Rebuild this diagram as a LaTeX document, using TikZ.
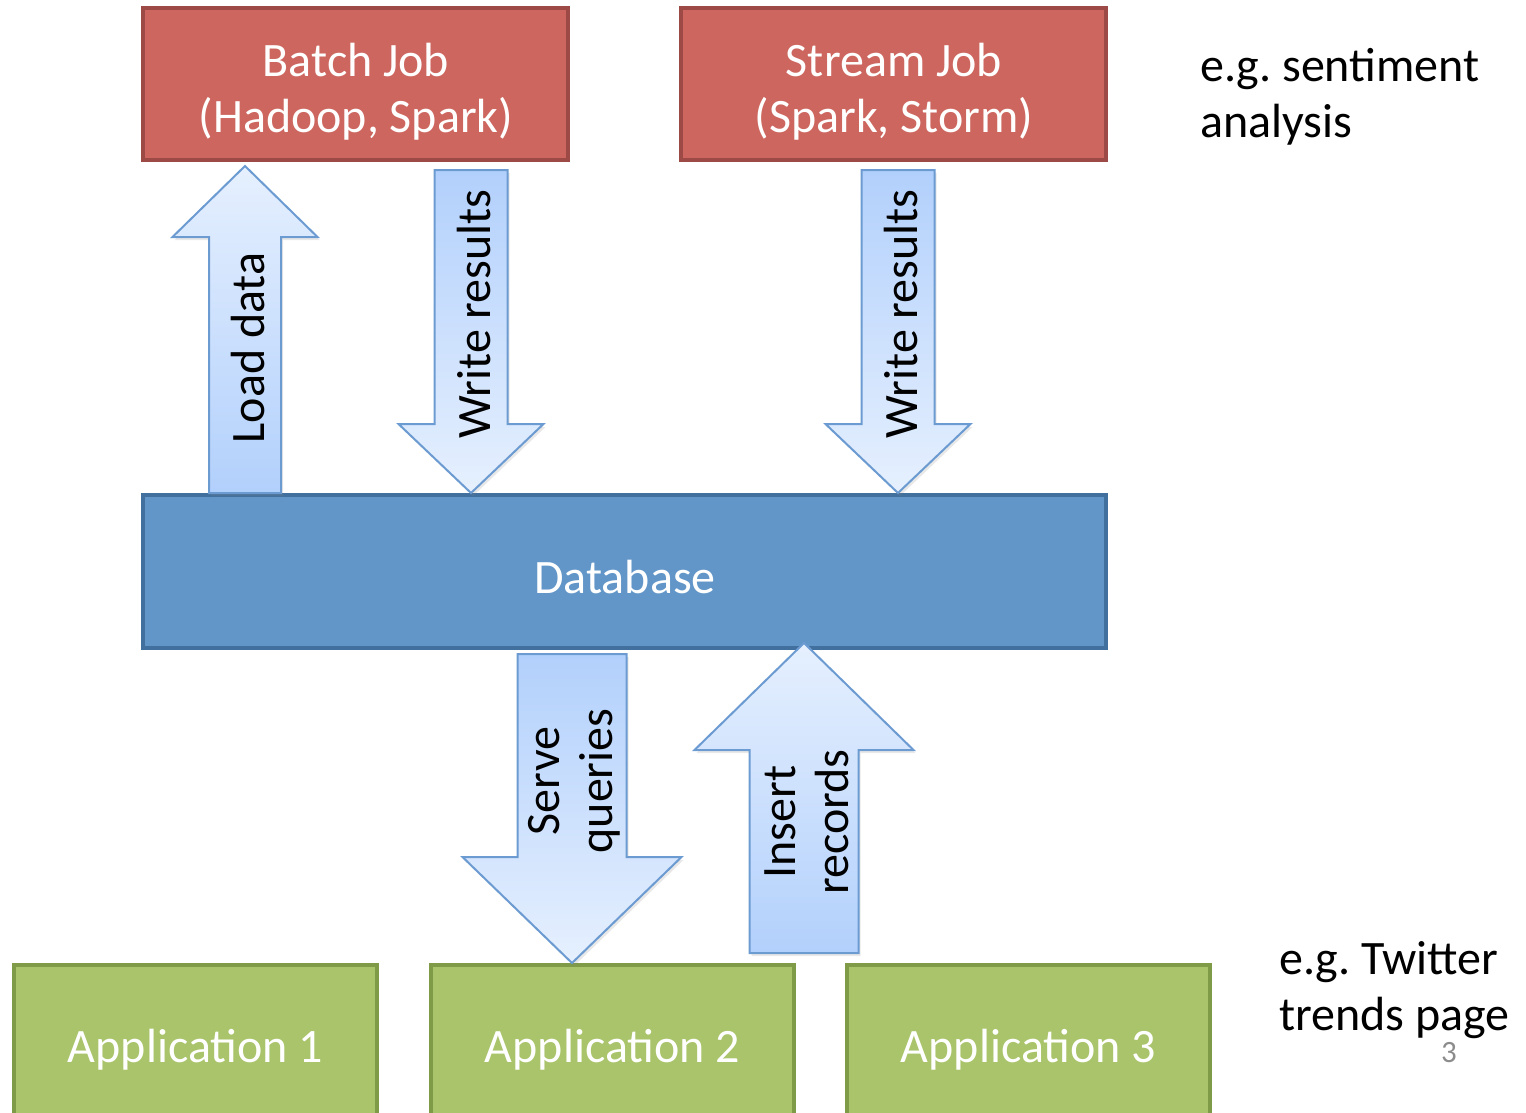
\documentclass[tikz,border=0pt]{standalone}
\usepackage{fontspec}
\setmainfont{Carlito}
\usetikzlibrary{calc,shadows}

\definecolor{jobfill}{RGB}{205,102,95}
\definecolor{jobline}{RGB}{157,74,70}
\definecolor{dbfill}{RGB}{98,150,200}
\definecolor{dbline}{RGB}{66,112,158}
\definecolor{appfill}{RGB}{169,196,106}
\definecolor{appline}{RGB}{127,155,72}
\definecolor{arrline}{RGB}{108,155,210}
\definecolor{arrlight}{RGB}{230,240,254}
\definecolor{arrdark}{RGB}{178,208,252}
\definecolor{pagenum}{RGB}{140,140,140}

% vertical block arrow: #1 style, #2 tail, #3 tip, #4 shaft half width,
% #5 head half width, #6 signed head length (canvas units)
\newcommand\vblockarrow[6]{%
  \path[#1] let \p1=(#2), \p2=(#3) in
    ({\x1-#4pt},{\y1}) -- ({\x1-#4pt},{\y2+#6pt}) -- ({\x1-#5pt},{\y2+#6pt})
    -- (\p2) -- ({\x1+#5pt},{\y2+#6pt}) -- ({\x1+#4pt},{\y2+#6pt})
    -- ({\x1+#4pt},{\y1}) -- cycle;}

\begin{document}
\frenchspacing
\begin{tikzpicture}[x=1pt,y=-1pt,
  bigfont/.style={font=\fontsize{48}{56}\selectfont},
  box/.style={draw, line width=4pt, inner sep=0pt},
  boxlabel/.style={text=white, inner sep=0pt, align=center, bigfont},
  jobbox/.style={box, fill=jobfill, draw=jobline},
  dbbox/.style={box, fill=dbfill, draw=dbline},
  appbox/.style={box, draw=appline, fill=appfill},
  blockarr/.style={draw=arrline, line width=2pt, line join=miter,
    drop shadow={opacity=0.18, shadow xshift=2pt, shadow yshift=-3pt}},
  uparr/.style={blockarr, top color=arrlight, bottom color=arrdark},
  downarr/.style={blockarr, top color=arrdark, bottom color=arrlight},
  arrlabel/.style={rotate=90, inner sep=0pt, align=center,
    font=\fontsize{48}{53}\selectfont},
  note/.style={inner sep=0pt, align=left, anchor=base west, bigfont}]

\useasboundingbox (0,0) rectangle (1526,1113);

% jobs
\node[jobbox, minimum width=425pt, minimum height=152pt] (batch) at (355.5,84) {};
\node[jobbox, minimum width=425pt, minimum height=152pt] (stream) at (893.5,84) {};
\node[boxlabel] (batchlabel) at (356,92) {Batch Job\\(Hadoop, Spark)};
\node[boxlabel] (streamlabel) at (894,92) {Stream Job\\(Spark, Storm)};

% database
\node[dbbox, minimum width=963pt, minimum height=153pt] (db) at (624.5,571.5) {};
\node[boxlabel] (dblabel) at (625,577) {Database};

% applications (their lower edge runs off the page)
\node[appbox, minimum width=363pt, minimum height=160pt] (app1) at (195.5,1045) {};
\node[appbox, minimum width=363pt, minimum height=160pt] (app2) at (612.5,1045) {};
\node[appbox, minimum width=363pt, minimum height=160pt] (app3) at (1028.5,1045) {};
\node[boxlabel] (app1label) at (195.5,1050) {Application 1};
\node[boxlabel] (app2label) at (612.5,1050) {Application 2};
\node[boxlabel] (app3label) at (1028.5,1050) {Application 3};

% arrow end points
\coordinate (load-tail)   at (245,493);
\coordinate (load-tip)    at (245,166);
\coordinate (writeA-tail) at (471,170);
\coordinate (writeA-tip)  at (471,493);
\coordinate (writeB-tail) at (898,170);
\coordinate (writeB-tip)  at (898,493);
\coordinate (serve-tail)  at (572,654);
\coordinate (serve-tip)   at (572,963);
\coordinate (insert-tail) at (804,953);
\coordinate (insert-tip)  at (804,643);

% block arrows
\vblockarrow{uparr}{load-tail}{load-tip}{36}{72.5}{-71}
\vblockarrow{downarr}{writeA-tail}{writeA-tip}{36.5}{72.5}{69}
\vblockarrow{downarr}{writeB-tail}{writeB-tip}{36.5}{72.5}{69}
\vblockarrow{downarr}{serve-tail}{serve-tip}{54.5}{109.5}{106}
\vblockarrow{uparr}{insert-tail}{insert-tip}{54.5}{109.5}{-107}

% arrow labels
\node[arrlabel] (loadlabel)   at (248,348) {Load data};
\node[arrlabel] (writeAlabel) at (474,314) {Write results};
\node[arrlabel] (writeBlabel) at (901,314) {Write results};
\node[arrlabel] (servelabel)  at (574,781) {Serve\\queries};
\node[arrlabel] (insertlabel) at (807,822) {Insert\\records};

% side notes (anchored at the baseline of their last line)
\node[note] (note-top) at (1200,138) {e.g. sentiment\\analysis};
\node[note] (note-bottom) at (1279,1030) {e.g. Twitter\\trends page};
\node[text=pagenum, font=\fontsize{31}{36}\selectfont, inner sep=0pt]
  (pageno) at (1449,1053) {3};
\end{tikzpicture}
\end{document}
